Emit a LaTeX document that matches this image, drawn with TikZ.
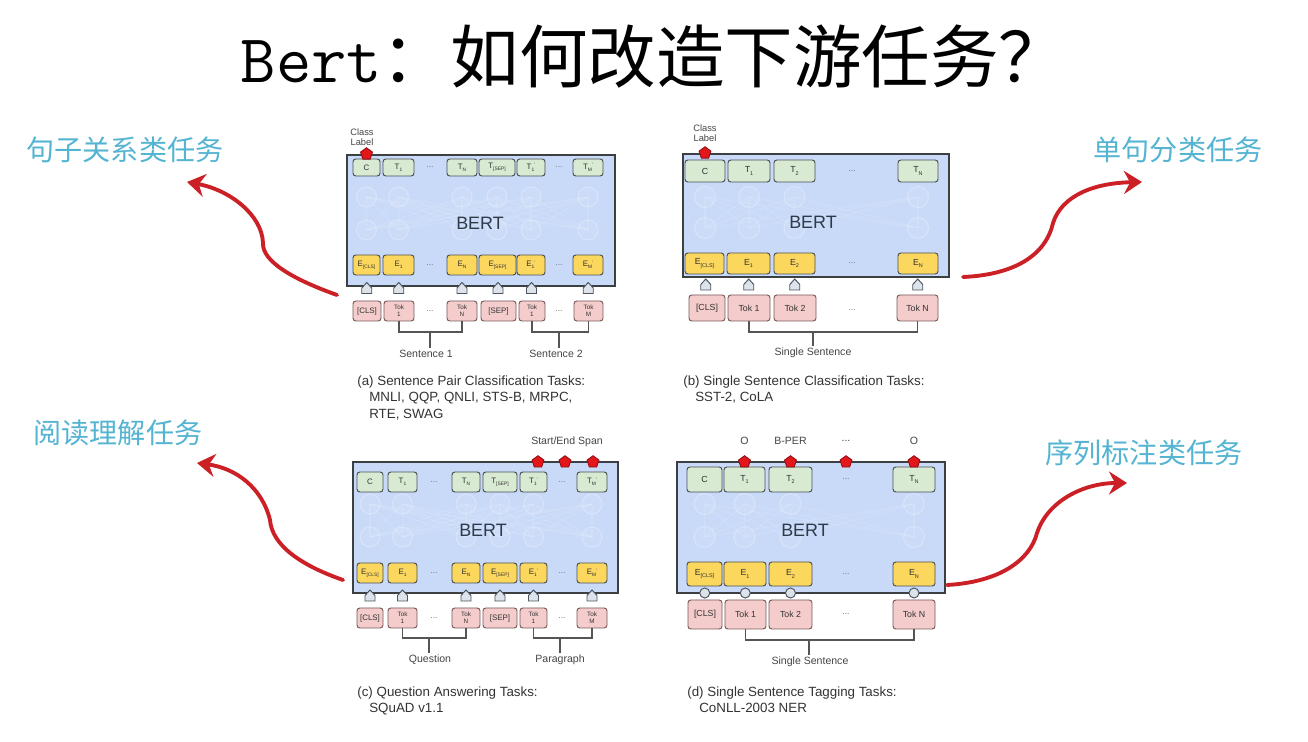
\documentclass[tikz,border=0pt]{standalone}
\usepackage{fontspec}
\usepackage{graphicx}
\setmainfont{Liberation Sans}
\newfontfamily\cjk{Noto Sans CJK SC}
\usetikzlibrary{arrows.meta,shapes.geometric,calc}

\definecolor{bertblue}{HTML}{C9DAF8}
\definecolor{boxedge}{HTML}{3C4043}
\definecolor{celledge}{HTML}{4A4F55}
\definecolor{tokedge}{HTML}{7A5A5A}
\definecolor{outgreen}{HTML}{D9EAD3}
\definecolor{embyellow}{HTML}{FCD75E}
\definecolor{tokpink}{HTML}{F4CCCC}
\definecolor{berttext}{HTML}{2D3A4A}
\definecolor{labtext}{HTML}{444444}
\definecolor{celltext}{HTML}{333333}
\definecolor{captiongray}{HTML}{333333}
\definecolor{bracketgray}{HTML}{555555}
\definecolor{dotgray}{HTML}{777777}
\definecolor{arrfill}{HTML}{DDE3EA}
\definecolor{arredge}{HTML}{4D5560}
\definecolor{taskcyan}{RGB}{84,180,210}
\definecolor{arrowred}{HTML}{CC2027}
\definecolor{pentred}{HTML}{E3161C}

% a box given by its corners (in px units), with a name, style and text
\newcommand\bcell[7]{%
  \pgfmathsetmacro\cellw{(#5-#3)*0.02}%
  \pgfmathsetmacro\cellh{(#6-#4)*0.02}%
  \node[#2, minimum width=\cellw cm, minimum height=\cellh cm] (#1) at ({(#3+#5)/2},{(#4+#6)/2}) {#7};}

% faint transformer mesh inside a BERT block: columns, two row heights, radius
\newcommand\netmesh[4]{%
  \foreach \mx in {#1}{\foreach \nx in {#1}{\draw[meshline] (\mx,#2) -- (\nx,#3);}}%
  \foreach \mx in {#1}{\draw[meshdot] (\mx,#2) circle[radius=#4];\draw[meshdot] (\mx,#3) circle[radius=#4];}}

% letter with a small lowered index, optionally primed
\newcommand\subx[2]{#1\raisebox{-0.28em}{\scalebox{0.62}{#2}}}
\newcommand\subxp[2]{#1\raisebox{-0.28em}{\scalebox{0.62}{#2}}\raisebox{0.3em}{\scalebox{0.62}{'}}}

\begin{document}
\begin{tikzpicture}[x=0.02cm,y=-0.02cm,
  bertbox/.style={draw=boxedge,line width=1.1pt,fill=bertblue,inner sep=0pt},
  cellbase/.style={draw=celledge,line width=0.55pt,rounded corners=1.6pt,inner sep=0pt,align=center,
    font=\fontsize{4.5}{4.8}\selectfont,text=celltext},
  outcell/.style={cellbase,fill=outgreen},
  embcell/.style={cellbase,fill=embyellow},
  tokcell/.style={cellbase,fill=tokpink,draw=tokedge},
  twoline/.style={font=\fontsize{3.6}{4}\selectfont},
  widecell/.style={font=\fontsize{5}{5.5}\selectfont},
  dotsmark/.style={font=\fontsize{5}{6}\selectfont,text=dotgray,inner sep=0pt},
  bertlabel/.style={font=\fontsize{10.2}{12}\selectfont,text=berttext},
  smalllab/.style={font=\fontsize{5.3}{6}\selectfont,text=labtext,align=center,inner sep=0pt},
  sentlab/.style={font=\fontsize{6}{7}\selectfont,text=labtext,inner sep=1pt},
  toplab/.style={font=\fontsize{6}{7}\selectfont,text=labtext,inner sep=0pt},
  captext/.style={font=\fontsize{7.6}{9.4}\selectfont,text=captiongray,align=left,inner sep=0pt,anchor=north west},
  bracket/.style={draw=bracketgray,line width=0.6pt},
  pentmark/.style={regular polygon,regular polygon sides=5,fill=pentred,draw=pentred!65!black,
    line width=0.5pt,minimum size=0.25cm,inner sep=0pt},
  arrblock/.style={fill=arrfill,draw=arredge,line width=0.55pt},
  meshline/.style={draw=white,line width=0.6pt,opacity=0.1},
  meshdot/.style={draw=white,fill=white,line width=0.6pt,draw opacity=0.25,fill opacity=0.07},
  tasklab/.style={font=\cjk\fontsize{16}{18}\selectfont,text=taskcyan},
  taskarrow/.style={draw=arrowred,line width=2.2pt,line cap=round,
    -{Stealth[length=3.6mm,width=4.6mm,inset=1.2mm]}},
  house/.pic={\draw[arrblock] (-5,5.5) -- (5,5.5) -- (5,0) -- (0,-5.5) -- (-5,0) -- cycle;},
  knob/.pic={\draw[arrblock] (0,0) circle[radius=0.1cm];}
]
\useasboundingbox (0,0) rectangle (1308,742);
\fill[white] (0,0) rectangle (1308,742);

% title
\node[font=\fontsize{39}{42}\selectfont,inner sep=0pt] (title) at (654,57)
  {\ttfamily Bert\cjk ：如何改造下游任务？};

% ---------- (a) sentence pair classification
\bcell{a-box}{bertbox}{347}{155}{615}{286}{}
\netmesh{366.5,398.5,462,497,531,588}{197}{230}{0.2cm}
\bcell{a-c}{outcell}{353}{159}{380}{176}{C}
\bcell{a-t1}{outcell}{383}{159}{414}{176}{\subx{T}{1}}
\bcell{a-tn}{outcell}{447}{159}{477}{176}{\subx{T}{N}}
\bcell{a-tsep}{outcell}{479}{159}{515}{176}{\subx{T}{[SEP]}}
\bcell{a-t1p}{outcell}{517}{159}{545}{176}{\subxp{T}{1}}
\bcell{a-tmp}{outcell}{573}{159}{603}{176}{\subxp{T}{M}}
\bcell{a-ecls}{embcell}{353}{255}{380}{275}{\subx{E}{[CLS]}}
\bcell{a-e1}{embcell}{383}{255}{414}{275}{\subx{E}{1}}
\bcell{a-en}{embcell}{447}{255}{477}{275}{\subx{E}{N}}
\bcell{a-esep}{embcell}{479}{255}{516}{275}{\subx{E}{[SEP]}}
\bcell{a-e1p}{embcell}{517}{255}{545}{275}{\subxp{E}{1}}
\bcell{a-emp}{embcell}{573}{255}{603}{275}{\subxp{E}{M}}
\bcell{a-kcls}{tokcell}{353}{301}{381}{321}{[CLS]}
\bcell{a-k1}{tokcell,twoline}{384}{301}{414}{321}{Tok\\1}
\bcell{a-kn}{tokcell,twoline}{447}{301}{477}{321}{Tok\\N}
\bcell{a-ksep}{tokcell}{481}{301}{516}{321}{[SEP]}
\bcell{a-k1p}{tokcell,twoline}{519}{301}{545}{321}{Tok\\1}
\bcell{a-kmp}{tokcell,twoline}{574}{301}{603}{321}{Tok\\M}
\foreach \r [count=\i] in {167.5,265,311}{
  \node[dotsmark] (a-dl\i) at (430,\r) {...};
  \node[dotsmark] (a-dr\i) at (559,\r) {...};}
\node[bertlabel] (a-bert) at (480,223) {BERT};
\foreach \e/\k in {ecls/kcls,e1/k1,en/kn,esep/ksep,e1p/k1p,emp/kmp}
  \pic at ($(a-\e.south)!0.5!(a-\k.north)$) {house};
\coordinate (a-s1) at (430,332);
\coordinate (a-s2) at (559,332);
\draw[bracket] (a-k1.south) |- (a-s1) -| (a-kn.south);
\draw[bracket] (a-k1p.south) |- (a-s2) -| (a-kmp.south);
\node[sentlab] (a-lab1) at (426,354) {Sentence 1};
\node[sentlab] (a-lab2) at (556,354) {Sentence 2};
\draw[bracket] (a-s1) -- (a-s1 |- a-lab1.north);
\draw[bracket] (a-s2) -- (a-s2 |- a-lab2.north);
\node[smalllab] (a-cl) at (362,137) {Class\\Label};
\node[pentmark] (a-out) at (a-c.north |- a-box.north) {};
\node[captext] (a-cap) at (357,375)
  {(a) Sentence Pair Classification Tasks:\\\hspace*{6.8pt}MNLI, QQP, QNLI, STS-B, MRPC,\\\hspace*{6.8pt}RTE, SWAG};

% ---------- (b) single sentence classification
\bcell{b-box}{bertbox}{683}{154}{949}{277}{}
\netmesh{705,749,794.5,918}{197}{228}{0.21cm}
\bcell{b-c}{outcell,widecell}{685}{160}{725}{182}{C}
\bcell{b-t1}{outcell,widecell}{728}{160}{770}{182}{\subx{T}{1}}
\bcell{b-t2}{outcell,widecell}{774}{160}{815}{182}{\subx{T}{2}}
\bcell{b-tn}{outcell,widecell}{898}{160}{938}{182}{\subx{T}{N}}
\bcell{b-ecls}{embcell,widecell}{685}{253}{724}{274}{\subx{E}{[CLS]}}
\bcell{b-e1}{embcell,widecell}{727}{253}{770}{274}{\subx{E}{1}}
\bcell{b-e2}{embcell,widecell}{774}{253}{815}{274}{\subx{E}{2}}
\bcell{b-en}{embcell,widecell}{898}{253}{938}{274}{\subx{E}{N}}
\bcell{b-kcls}{tokcell,widecell}{689}{295}{725}{321}{[CLS]}
\bcell{b-k1}{tokcell,widecell}{728}{295}{770}{321}{Tok 1}
\bcell{b-k2}{tokcell,widecell}{774}{295}{816}{321}{Tok 2}
\bcell{b-kn}{tokcell,widecell}{897}{295}{938}{321}{Tok N}
\foreach \r [count=\i] in {171,263.5,310}
  \node[dotsmark] (b-d\i) at (852,\r) {...};
\node[bertlabel] (b-bert) at (813,222) {BERT};
\foreach \e/\k in {ecls/kcls,e1/k1,e2/k2,en/kn}
  \pic at ($(b-\e.south)!0.5!(b-\k.north)$) {house};
\coordinate (b-s) at (813,332);
\draw[bracket] (b-k1.south) |- (b-s) -| (b-kn.south);
\node[sentlab] (b-lab) at (813,353) {Single Sentence};
\draw[bracket] (b-s) -- (b-s |- b-lab.north);
\node[smalllab] (b-cl) at (705,133) {Class\\Label};
\node[pentmark] (b-out) at (b-c.north |- b-box.north) {};
\node[captext] (b-cap) at (683,375)
  {(b) Single Sentence Classification Tasks:\\\hspace*{6.8pt}SST-2, CoLA};

% ---------- (c) question answering
\bcell{c-box}{bertbox}{353}{462}{618}{593}{}
\netmesh{370,402.5,466,500,533.5,592}{504}{537}{0.2cm}
\bcell{c-c}{outcell}{357}{472}{383}{492}{C}
\bcell{c-t1}{outcell}{388}{472}{417}{492}{\subx{T}{1}}
\bcell{c-tn}{outcell}{452}{472}{480}{492}{\subx{T}{N}}
\bcell{c-tsep}{outcell}{483}{472}{517}{492}{\subx{T}{[SEP]}}
\bcell{c-t1p}{outcell}{520}{472}{547}{492}{\subxp{T}{1}}
\bcell{c-tmp}{outcell}{577}{472}{607}{492}{\subxp{T}{M}}
\bcell{c-ecls}{embcell}{357}{563}{383}{583}{\subx{E}{[CLS]}}
\bcell{c-e1}{embcell}{388}{563}{417}{583}{\subx{E}{1}}
\bcell{c-en}{embcell}{452}{563}{480}{583}{\subx{E}{N}}
\bcell{c-esep}{embcell}{483}{563}{517}{583}{\subx{E}{[SEP]}}
\bcell{c-e1p}{embcell}{520}{563}{547}{583}{\subxp{E}{1}}
\bcell{c-emp}{embcell}{577}{563}{607}{583}{\subxp{E}{M}}
\bcell{c-kcls}{tokcell}{357}{608}{383}{628}{[CLS]}
\bcell{c-k1}{tokcell,twoline}{388}{608}{417}{628}{Tok\\1}
\bcell{c-kn}{tokcell,twoline}{452}{608}{480}{628}{Tok\\N}
\bcell{c-ksep}{tokcell}{483}{608}{517}{628}{[SEP]}
\bcell{c-k1p}{tokcell,twoline}{520}{608}{547}{628}{Tok\\1}
\bcell{c-kmp}{tokcell,twoline}{577}{608}{607}{628}{Tok\\M}
\foreach \r [count=\i] in {482,573,618}{
  \node[dotsmark] (c-dl\i) at (434,\r) {...};
  \node[dotsmark] (c-dr\i) at (562,\r) {...};}
\node[bertlabel] (c-bert) at (483,530) {BERT};
\foreach \e/\k in {ecls/kcls,e1/k1,en/kn,esep/ksep,e1p/k1p,emp/kmp}
  \pic at ($(c-\e.south)!0.5!(c-\k.north)$) {house};
\coordinate (c-q) at (429,638);
\coordinate (c-p) at (560,638);
\draw[bracket] (c-k1.south) |- (c-q) -| (c-kn.south);
\draw[bracket] (c-k1p.south) |- (c-p) -| (c-kmp.south);
\node[sentlab] (c-lab1) at (430,660) {Question};
\node[sentlab] (c-lab2) at (560,660) {Paragraph};
\draw[bracket] (c-q) -- (c-q |- c-lab1.north);
\draw[bracket] (c-p) -- (c-p |- c-lab2.north);
\node[toplab] (c-span) at (567,442) {Start/End Span};
\node[pentmark] (c-o1) at (538,462) {};
\node[pentmark] (c-o2) at (565,462) {};
\node[pentmark] (c-o3) at (593,462) {};
\node[captext] (c-cap) at (357,686)
  {(c) Question Answering Tasks:\\\hspace*{6.8pt}SQuAD v1.1};

% ---------- (d) single sentence tagging
\bcell{d-box}{bertbox}{677}{462}{945}{593}{}
\netmesh{704.5,744.5,790.5,914}{504}{537}{0.21cm}
\bcell{d-c}{outcell,widecell}{687}{467}{722}{492}{C}
\bcell{d-t1}{outcell,widecell}{724}{467}{765}{492}{\subx{T}{1}}
\bcell{d-t2}{outcell,widecell}{769}{467}{812}{492}{\subx{T}{2}}
\bcell{d-tn}{outcell,widecell}{893}{467}{935}{492}{\subx{T}{N}}
\bcell{d-ecls}{embcell,widecell}{687}{562}{722}{586}{\subx{E}{[CLS]}}
\bcell{d-e1}{embcell,widecell}{724}{562}{766}{586}{\subx{E}{1}}
\bcell{d-e2}{embcell,widecell}{769}{562}{812}{586}{\subx{E}{2}}
\bcell{d-en}{embcell,widecell}{893}{562}{935}{586}{\subx{E}{N}}
\bcell{d-kcls}{tokcell,widecell}{688}{600}{722}{629}{[CLS]}
\bcell{d-k1}{tokcell,widecell}{725}{600}{766}{629}{Tok 1}
\bcell{d-k2}{tokcell,widecell}{769}{600}{812}{629}{Tok 2}
\bcell{d-kn}{tokcell,widecell}{893}{600}{935}{629}{Tok N}
\foreach \r [count=\i] in {479.5,574,614.5}
  \node[dotsmark] (d-d\i) at (846,\r) {...};
\node[bertlabel] (d-bert) at (805,530) {BERT};
\foreach \e/\k in {ecls/kcls,e1/k1,e2/k2,en/kn}
  \pic at ($(d-\e.south)!0.5!(d-\k.north)$) {knob};
\coordinate (d-s) at (809,640);
\draw[bracket] (d-k1.south) |- (d-s) -| (d-kn.south);
\node[sentlab] (d-lab) at (810,662) {Single Sentence};
\draw[bracket] (d-s) -- (d-s |- d-lab.north);
\coordinate (d-tagrow) at (0,441);
\coordinate (d-edge) at (0,462);
\coordinate (d-dotcol) at (846,0);
\node[toplab] (d-l1) at (d-t1 |- d-tagrow) {O};
\node[toplab] (d-l2) at (d-t2 |- d-tagrow) {B-PER};
\node[toplab] (d-l3) at (d-dotcol |- d-tagrow) {...};
\node[toplab] (d-l4) at (d-tn |- d-tagrow) {O};
\node[pentmark] (d-o1) at (d-t1 |- d-edge) {};
\node[pentmark] (d-o2) at (d-t2 |- d-edge) {};
\node[pentmark] (d-o3) at (d-dotcol |- d-edge) {};
\node[pentmark] (d-o4) at (d-tn |- d-edge) {};
\node[captext] (d-cap) at (687,686)
  {(d) Single Sentence Tagging Tasks:\\\hspace*{6.8pt}CoNLL-2003 NER};

% ---------- task labels and the arrows pointing to them
\node[tasklab] (lab-a) at (125,150) {句子关系类任务};
\node[tasklab] (lab-b) at (1178,150) {单句分类任务};
\node[tasklab] (lab-c) at (118,433) {阅读理解任务};
\node[tasklab] (lab-d) at (1144,453) {序列标注类任务};

\coordinate (ra-from) at (337,295);
\coordinate (ra-to) at (187,182);
\coordinate (rb-from) at (963,277);
\coordinate (rb-to) at (1142,182);
\coordinate (rc-from) at (343,580);
\coordinate (rc-to) at (197,463);
\coordinate (rd-from) at (947,585);
\coordinate (rd-to) at (1127,483);
\draw[taskarrow] (ra-from) .. controls (295,280) and (262,262) .. (263,243)
  .. controls (262,215) and (230,190) .. (ra-to);
\draw[taskarrow] (rb-from) .. controls (1010,275) and (1045,258) .. (1053,223)
  .. controls (1062,195) and (1095,183) .. (rb-to);
\draw[taskarrow] (rc-from) .. controls (300,565) and (272,545) .. (270,520)
  .. controls (262,487) and (235,468) .. (rc-to);
\draw[taskarrow] (rd-from) .. controls (1000,582) and (1030,560) .. (1037,533)
  .. controls (1048,500) and (1085,483) .. (rd-to);
\end{tikzpicture}
\end{document}
